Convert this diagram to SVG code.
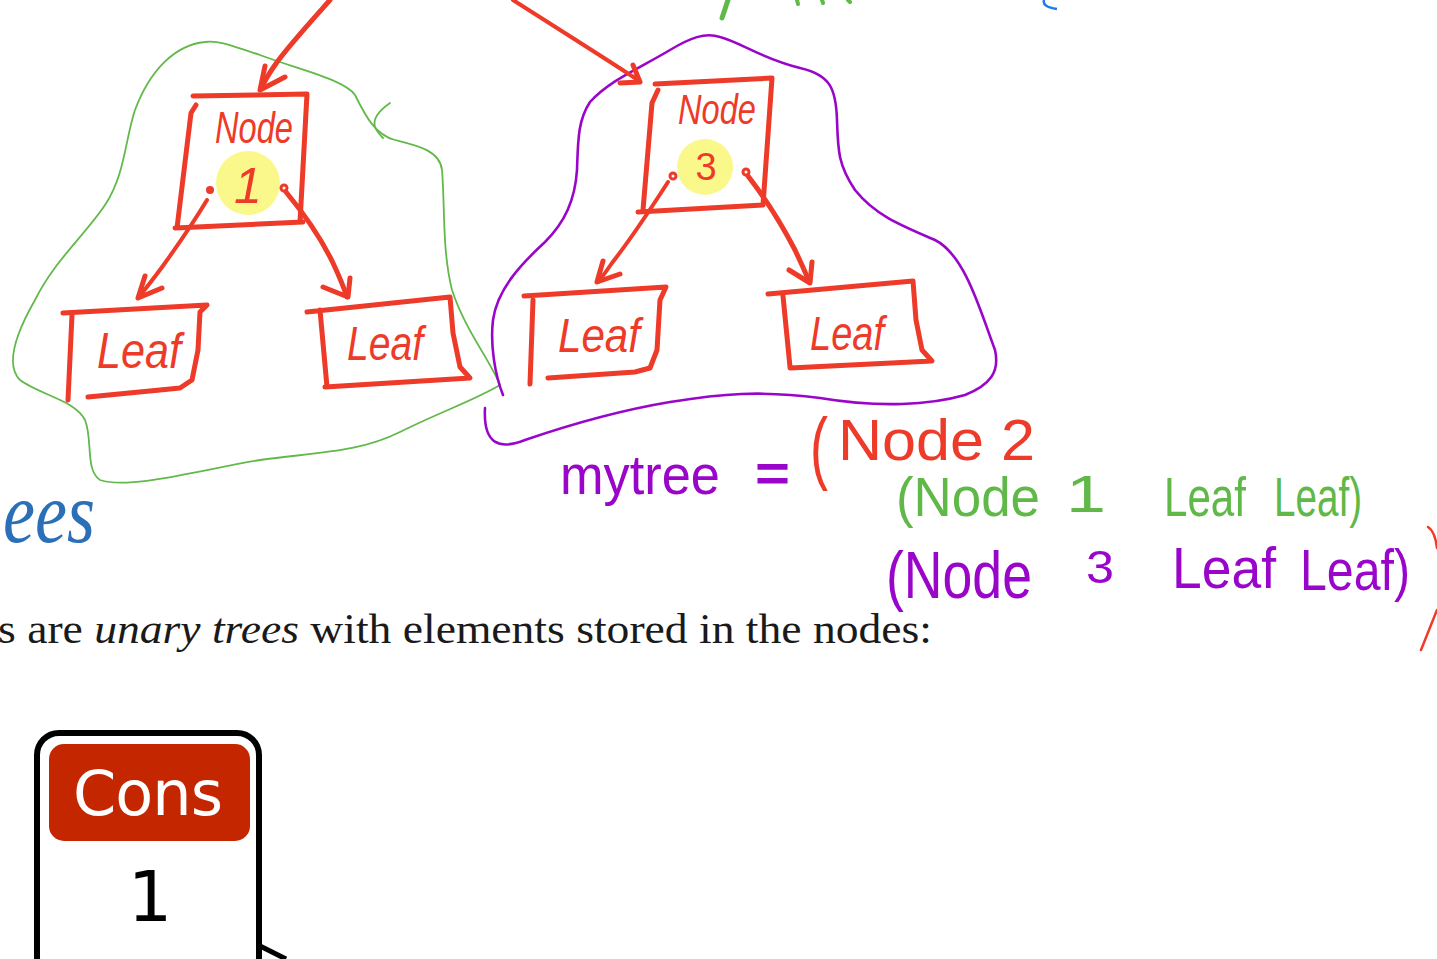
<svg xmlns="http://www.w3.org/2000/svg" width="1437" height="959" viewBox="0 0 1437 959">
<style>
.r{fill:none;stroke:#ee3a28;stroke-width:5;stroke-linecap:round;stroke-linejoin:round}
.rt{fill:none;stroke:#ee3a28;stroke-width:4;stroke-linecap:round;stroke-linejoin:round}
.g{fill:none;stroke:#62b94a;stroke-width:1.8;stroke-linecap:round}
.p{fill:none;stroke:#9a06c9;stroke-width:2.6;stroke-linecap:round}
.hw{font-family:"Liberation Sans",Arial,sans-serif}
.red{fill:#ee3a28}
.grn{fill:#5fb847}
.pur{fill:#9a06c9}
.yel{fill:#fbf77e;opacity:0.9}
.dot{fill:none;stroke:#ee3a28;stroke-width:3}
</style>
<rect width="1437" height="959" fill="#ffffff"/>

<g id="slide-text">
<text x="3" y="542" font-family="Liberation Serif,serif" font-style="italic" font-size="86" fill="#2b6fb6" textLength="92" lengthAdjust="spacingAndGlyphs">ees</text>
<text x="-2" y="643" font-family="Liberation Serif,serif" font-size="43" fill="#1a1a1a" textLength="934" lengthAdjust="spacingAndGlyphs">s are <tspan font-style="italic">unary trees</tspan> with elements stored in the nodes:</text>
</g>

<g id="cons-box">
<rect x="37" y="733" width="222" height="246" rx="22" fill="#ffffff" stroke="#000" stroke-width="6"/>
<rect x="49" y="744" width="201" height="97" rx="15" fill="#c42600"/>
<text x="148" y="815" text-anchor="middle" font-family="DejaVu Sans,sans-serif" font-size="62" fill="#ffffff" textLength="150" lengthAdjust="spacing">Cons</text>
<text x="150" y="921" text-anchor="middle" font-family="DejaVu Sans,sans-serif" font-size="70" fill="#000">1</text>
<path d="M258,945 L286,959" stroke="#000" stroke-width="5" fill="none"/>
</g>

<g id="top-partial">
<path d="M728,0 L722,18" stroke="#62b94a" stroke-width="5" stroke-linecap="round" fill="none"/>
<path d="M797,0 L798,4 M822,0 L823,3 M848,0 L850,2" stroke="#62b94a" stroke-width="4" stroke-linecap="round" fill="none"/>
<path d="M1044,0 Q1042,7 1057,9" stroke="#1e7cf0" stroke-width="2.5" fill="none"/>
</g>

<g id="green-outline">
<path class="g" d="M205,42 C175,45 150,70 135,110 C125,140 125,175 105,205 C85,235 55,260 35,300 C15,335 5,365 20,380 C40,395 75,400 85,420 C93,440 85,470 100,480 C130,490 200,470 260,460 C320,452 360,452 400,432 C440,412 475,400 500,385 C490,360 465,330 452,290 C442,250 445,205 442,170 C440,150 415,145 395,140 C375,135 365,115 355,95 C345,80 300,70 260,55 C235,47 220,40 205,42 Z"/>
<path class="g" d="M390,103 C380,110 372,118 375,127 C377,132 380,135 383,138"/>
</g>

<g id="purple-outline">
<path class="p" d="M503,395 C495,375 490,345 493,320 C497,290 520,265 545,242 C565,222 575,200 577,170 C578,140 578,120 590,102 C610,80 640,68 670,50 C690,38 705,32 720,37 C740,42 760,58 800,68 C830,75 836,88 837,120 C838,150 838,165 855,190 C875,215 900,225 935,240 C965,255 980,310 995,350 C1000,372 990,385 965,395 C930,405 880,408 820,398 C760,390 720,394 670,402 C610,412 560,428 525,440 C500,450 483,445 485,408"/>
</g>

<g id="node1">
<path class="r" d="M193,96 L307,94 L300,222 M175,228 L303,222 M196,105 L191,113 L177,228"/>
<circle class="yel" cx="248" cy="183" r="32"/>
<text class="hw red" x="215" y="143" font-size="44" font-style="italic" textLength="78" lengthAdjust="spacingAndGlyphs">Node</text>
<text class="hw red" x="248" y="203" font-size="50" font-style="italic" text-anchor="middle">1</text>
<circle cx="210" cy="190" r="4" fill="#ee3a28"/>
<circle class="dot" cx="284" cy="188" r="3"/>
</g>

<g id="leaf1a">
<path class="r" d="M63,313 L207,305 L200,312 L198,350 L192,380 L180,388 L160,390 L88,397 M72,315 L68,400"/>
<text class="hw red" x="97" y="368" font-size="50" font-style="italic" textLength="84" lengthAdjust="spacingAndGlyphs">Leaf</text>
</g>

<g id="leaf1b">
<path class="r" d="M307,312 L450,297 L453,333 L460,367 L470,378 L325,387 M320,310 L327,387"/>
<text class="hw red" x="347" y="360" font-size="48" font-style="italic" textLength="76" lengthAdjust="spacingAndGlyphs">Leaf</text>
</g>

<g id="node3">
<path class="r" d="M655,84 L772,78 L763,205 M638,212 L763,205 M658,90 L652,103 L643,210"/>
<circle class="yel" cx="705" cy="167" r="28"/>
<text class="hw red" x="678" y="124" font-size="42" font-style="italic" textLength="78" lengthAdjust="spacingAndGlyphs">Node</text>
<text class="hw red" x="706" y="180" font-size="38" text-anchor="middle">3</text>
<circle class="dot" cx="673" cy="176" r="3"/>
<circle class="dot" cx="746" cy="172" r="3"/>
</g>

<g id="leaf3a">
<path class="r" d="M524,296 L666,287 L660,300 L657,350 L650,368 L635,372 L548,378 M533,300 L530,384"/>
<text class="hw red" x="558" y="352" font-size="48" font-style="italic" textLength="82" lengthAdjust="spacingAndGlyphs">Leaf</text>
</g>

<g id="leaf3b">
<path class="r" d="M768,294 L913,281 L916,320 L922,350 L932,361 L790,368 M783,296 L790,367"/>
<text class="hw red" x="810" y="350" font-size="48" font-style="italic" textLength="74" lengthAdjust="spacingAndGlyphs">Leaf</text>
</g>

<g id="connectors">
<path class="r" d="M330,0 C305,28 285,50 275,65 C268,75 264,82 261,89"/>
<path class="r" d="M265,66 L260,90 L285,77"/>
<path class="rt" d="M513,0 C560,30 600,55 638,80"/>
<path class="r" d="M633,65 L640,82 L620,83"/>
<path class="rt" d="M207,200 C195,220 180,242 165,263 C155,277 146,288 139,297"/>
<path class="r" d="M145,276 L138,298 L162,288"/>
<path class="r" d="M286,192 C305,215 322,240 333,263 C340,278 344,288 347,297"/>
<path class="r" d="M350,278 L348,297 L323,287"/>
<path class="rt" d="M668,182 C650,210 630,240 612,263 C606,272 602,277 598,282"/>
<path class="r" d="M603,261 L597,282 L620,274"/>
<path class="r" d="M748,176 C765,198 782,225 795,250 C801,263 806,273 809,282"/>
<path class="r" d="M812,262 L810,283 L789,270"/>
</g>

<g id="expression">
<text class="hw pur" x="560" y="494" font-size="56" textLength="160" lengthAdjust="spacingAndGlyphs">mytree</text>
<text class="hw pur" x="755" y="491" font-size="52" font-weight="bold" textLength="35" lengthAdjust="spacingAndGlyphs">=</text>
<text class="hw red" x="810" y="474" font-size="80" textLength="18" lengthAdjust="spacingAndGlyphs">(</text>
<text class="hw red" x="838" y="460" font-size="58" textLength="197" lengthAdjust="spacingAndGlyphs">Node  2</text>
<text class="hw grn" x="896" y="516" font-size="56" textLength="144" lengthAdjust="spacingAndGlyphs">(Node</text>
<text class="hw grn" x="1066" y="512" font-size="52" textLength="40" lengthAdjust="spacingAndGlyphs">1</text>
<text class="hw grn" x="1164" y="516" font-size="56" textLength="82" lengthAdjust="spacingAndGlyphs">Leaf</text>
<text class="hw grn" x="1274" y="516" font-size="56" textLength="88" lengthAdjust="spacingAndGlyphs">Leaf)</text>
<text class="hw pur" x="886" y="598" font-size="66" textLength="146" lengthAdjust="spacingAndGlyphs">(Node</text>
<text class="hw pur" x="1086" y="583" font-size="46" textLength="28" lengthAdjust="spacingAndGlyphs">3</text>
<text class="hw pur" x="1172" y="588" font-size="58" textLength="104" lengthAdjust="spacingAndGlyphs">Leaf</text>
<text class="hw pur" x="1300" y="590" font-size="58" textLength="110" lengthAdjust="spacingAndGlyphs">Leaf)</text>
<path d="M1428,527 C1433,530 1436,540 1437,548 M1437,610 L1421,650" stroke="#ee3a28" stroke-width="2.5" fill="none" stroke-linecap="round"/>
</g>
</svg>
